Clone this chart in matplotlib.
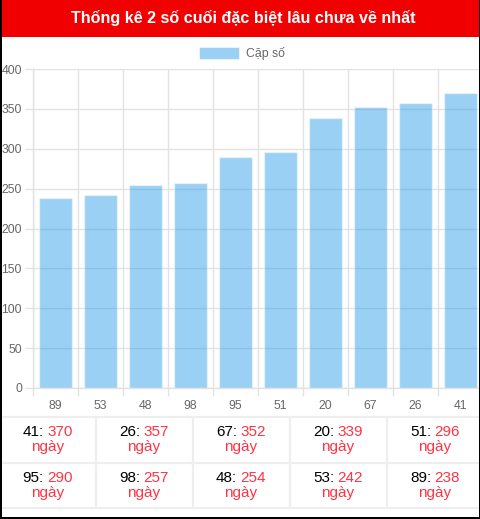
import matplotlib
matplotlib.use('Agg')
import matplotlib.pyplot as plt
from matplotlib.patches import Rectangle
from matplotlib.lines import Line2D

# ---------------- data ----------------
categories = ['89', '53', '48', '98', '95', '51', '20', '67', '26', '41']
values = [238, 242, 254, 257, 290, 296, 339, 352, 357, 370]
yticks = [0, 50, 100, 150, 200, 250, 300, 350, 400]
title = 'Thống kê 2 số cuối đặc biệt lâu chưa về nhất'
legend_label = 'Cặp số'
table_pairs = ['41', '26', '67', '20', '51', '95', '98', '48', '53', '89']
table_days = [370, 357, 352, 339, 296, 290, 257, 254, 242, 238]
unit = 'ngày'

# ---------------- figure ----------------
W, H = 481, 519
plt.rcParams['font.family'] = ['Liberation Sans', 'DejaVu Sans']
fig = plt.figure(figsize=(W / 100, H / 100), dpi=100)
fig.patch.set_facecolor('white')


def fx(x):
    return x / W


def fy(y):
    return 1 - y / H


bar_color = (54 / 255, 162 / 255, 235 / 255, 0.5)
gridc = '#e2e2e2'
red = '#ff3344'
tick_col = '#666666'

# header
fig.patches.append(Rectangle((0, fy(37)), 1, 37 / H, transform=fig.transFigure,
                             facecolor='#f00000', edgecolor='none', zorder=0))
fig.text(fx(243), fy(23.3), title, color='white', fontsize=11.6,
         fontweight='bold', ha='center', va='baseline')

# legend
fig.patches.append(Rectangle((fx(199), fy(59)), 40 / W, 12 / H, transform=fig.transFigure,
                             facecolor=bar_color, edgecolor=(1, 1, 1, 0.5), linewidth=0.8, zorder=2))
fig.text(fx(246), fy(53), legend_label, color=tick_col, fontsize=8.8,
         ha='left', va='center')

# axes
ax = fig.add_axes([fx(33), fy(388), 450 / W, 319 / H])
xpos = list(range(len(categories)))
ax.bar(xpos, values, width=0.72, color=bar_color, edgecolor=(1, 1, 1, 0.45),
       linewidth=1, zorder=2)
ax.set_xlim(-0.5, len(categories) - 0.5)
ax.set_ylim(0, 400)
ax.set_yticks(yticks)
ax.set_yticklabels([str(v) for v in yticks])
ax.set_xticks([i - 0.5 for i in range(len(categories) + 1)])
ax.set_xticklabels([])
ax.set_xticks(xpos, minor=True)
ax.set_xticklabels(categories, minor=True)
ax.tick_params(axis='x', which='major', length=5.76, color=gridc, width=1)
ax.tick_params(axis='x', which='minor', length=0, pad=8.4, labelsize=8.8,
               labelcolor=tick_col)
ax.tick_params(axis='y', length=5.76, color=gridc, width=1, pad=2.2,
               labelsize=8.8, labelcolor=tick_col)
ax.set_axisbelow(True)
ax.grid(True, which='major', color=gridc, linewidth=1)
for s in ['top', 'right']:
    ax.spines[s].set_visible(False)
for s in ['left', 'bottom']:
    ax.spines[s].set_color(gridc)
    ax.spines[s].set_linewidth(1)

# table lines
sepc = '#eeeeee'
for yy in [417, 463, 508]:
    fig.add_artist(Line2D([fx(0), fx(479)], [fy(yy), fy(yy)], color=sepc,
                          linewidth=1.6, transform=fig.transFigure))
for xx in [96, 193, 290, 387]:
    fig.add_artist(Line2D([fx(xx), fx(xx)], [fy(417), fy(508)], color=sepc,
                          linewidth=1.6, transform=fig.transFigure))

# table text
col_centers = [47.5, 144, 241, 338, 435]
line1 = [436.3, 482.3]
line2 = [451.0, 497.0]
fs = 11
gap = 3.5
r = fig.canvas.get_renderer()


def text_w(s):
    t = fig.text(0, 0, s, fontsize=fs)
    w = t.get_window_extent(r).width
    t.remove()
    return w


for i, (p, d) in enumerate(zip(table_pairs, table_days)):
    row, col = divmod(i, 5)
    cx = col_centers[col]
    w1 = text_w(f'{p}:')
    w2 = text_w(str(d))
    total = w1 + gap + w2
    x0 = cx - total / 2
    fig.text(fx(x0), fy(line1[row]), f'{p}:', color='black',
             fontsize=fs, ha='left', va='baseline')
    fig.text(fx(x0 + w1 + gap), fy(line1[row]), str(d), color=red,
             fontsize=fs, ha='left', va='baseline')
    fig.text(fx(cx), fy(line2[row]), unit, color=red, fontsize=fs,
             ha='center', va='baseline')

# outer black border (left, right, bottom)
for (x0, y0, w, h) in [(0, 0, 1.5, H), (479, 0, 2, H), (0, 517, W, 2)]:
    fig.patches.append(Rectangle((fx(x0), fy(y0 + h)), w / W, h / H,
                                 transform=fig.transFigure, facecolor='black',
                                 edgecolor='none', zorder=10))

fig.savefig('out.png', dpi=100)
